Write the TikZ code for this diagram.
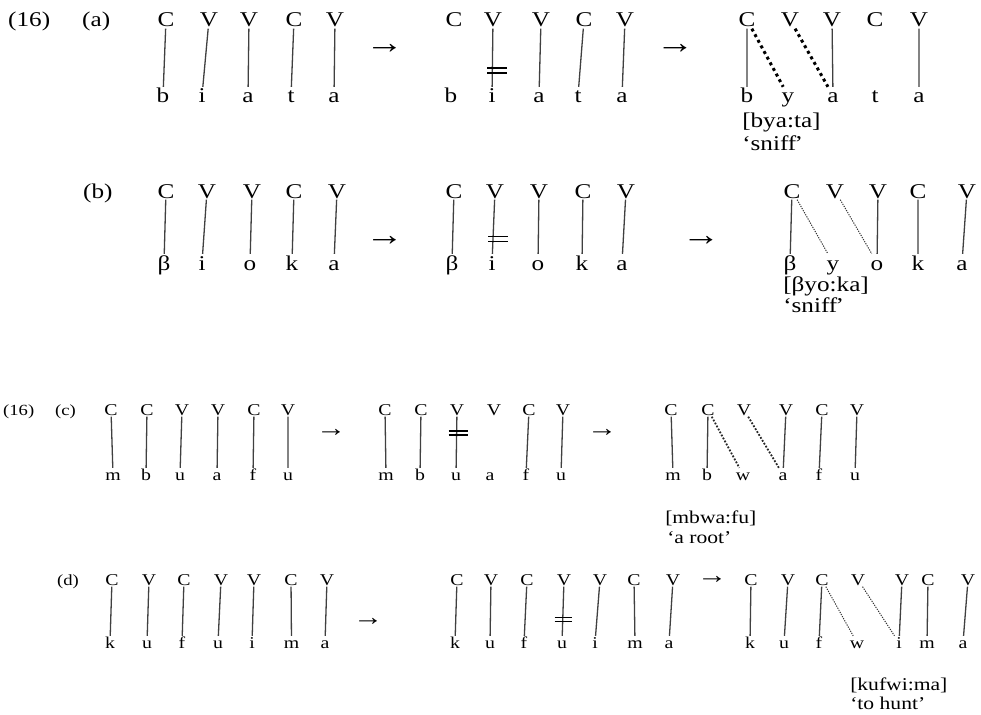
\documentclass[tikz,border=0pt]{standalone}
\usepackage{fontspec}
\setmainfont{Liberation Serif}
\usepackage{tikz}
\tikzset{
    seg/.style={
        anchor=base,
        inner sep=1.5pt,
        xscale=1.2,
        text height=14.5pt,
        text depth=0pt,
        font=\fontsize{21}{21}\selectfont
    },
    smallseg/.style={
        seg,
        text height=10.5pt,
        font=\fontsize{16.5}{16.5}\selectfont
    },
    gloss/.style={
        anchor=base west,
        inner sep=0pt,
        xscale=1.2,
        font=\fontsize{21}{21}\selectfont
    },
    smallgloss/.style={
        gloss,
        font=\fontsize{18}{18}\selectfont
    },
    exnum/.style={gloss},
    smallexnum/.style={gloss, font=\fontsize{15.5}{15.5}\selectfont},
    rarrow/.style={
        inner sep=0pt,
        xscale=1.2,
        font=\fontsize{32}{32}\selectfont
    },
    smallrarrow/.style={rarrow, font=\fontsize{25}{25}\selectfont},
    link/.style={line width=1.3pt, draw=black!75},
    boldlink/.style={line width=3pt, draw=black, dash pattern=on 3pt off 3.4pt},
    midlink/.style={line width=1.8pt, draw=black!85, dash pattern=on 1.8pt off 1.6pt},
    dotlink/.style={line width=1pt, draw=black!80, dash pattern=on 1.2pt off 1.2pt},
    cut/.style={line width=1.3pt, draw=black}
}

\begin{document}
\begin{tikzpicture}[x=1pt, y=-1pt]
\useasboundingbox (0,0) rectangle (981,714);

% (16a)
\node[exnum] (n16a) at (8,27) {(16)};
\node[exnum] (la) at (82,27) {(a)};

\node[seg] (a1s1) at (166,27) {C};
\node[seg] (a1s2) at (209,27) {V};
\node[seg] (a1s3) at (249,27) {V};
\node[seg] (a1s4) at (294,27) {C};
\node[seg] (a1s5) at (335,27) {V};
\node[seg] (a1m1) at (163,103) {b};
\node[seg] (a1m2) at (202,103) {i};
\node[seg] (a1m3) at (248,103) {a};
\node[seg] (a1m4) at (291,103) {t};
\node[seg] (a1m5) at (334,103) {a};

\node[rarrow] (ra1) at (384.5,49) {→};

\node[seg] (a2s1) at (454,27) {C};
\node[seg] (a2s2) at (493,27) {V};
\node[seg] (a2s3) at (541,27) {V};
\node[seg] (a2s4) at (584,27) {C};
\node[seg] (a2s5) at (625,27) {V};
\node[seg] (a2m1) at (451,103) {b};
\node[seg] (a2m2) at (492,103) {i};
\node[seg] (a2m3) at (539,103) {a};
\node[seg] (a2m4) at (578,103) {t};
\node[seg] (a2m5) at (622,103) {a};

\node[rarrow] (ra2) at (675,49) {→};

\node[seg] (a3s1) at (747,27) {C};
\node[seg] (a3s2) at (790,27) {V};
\node[seg] (a3s3) at (832,27) {V};
\node[seg] (a3s4) at (875,27) {C};
\node[seg] (a3s5) at (919,27) {V};
\node[seg] (a3m1) at (747,103) {b};
\node[seg] (a3m2) at (788,103) {y};
\node[seg] (a3m3) at (833,103) {a};
\node[seg] (a3m4) at (875,103) {t};
\node[seg] (a3m5) at (919,103) {a};
\node[gloss] (ga1) at (742,128) {[bya:ta]};
\node[gloss] (ga2) at (742,150) {‘sniff\kern-1.5pt’};

\draw[link] (a1s1) -- (a1m1);
\draw[link] (a1s2) -- (a1m2);
\draw[link] (a1s3) -- (a1m3);
\draw[link] (a1s4) -- (a1m4);
\draw[link] (a1s5) -- (a1m5);

\draw[link] (a2s2) -- coordinate[pos=0.72] (a2x) (a2m2);
\draw[link] (a2s3) -- (a2m3);
\draw[link] (a2s4) -- (a2m4);
\draw[link] (a2s5) -- (a2m5);
\draw[cut] ([shift={(-5,-2.5)}]a2x) -- +(20,0) ([shift={(-5,2.5)}]a2x) -- +(20,0);

\draw[link] (a3s1) -- (a3m1);
\draw[boldlink] (a3s1) -- (a3m2);
\draw[boldlink] (a3s2) -- (a3m3);
\draw[link] (a3s3) -- (a3m3);
\draw[link] (a3s5) -- (a3m5);

% (16b)
\node[exnum] (lb) at (83,198) {(b)};

\node[seg] (b1s1) at (166,198) {C};
\node[seg] (b1s2) at (207,198) {V};
\node[seg] (b1s3) at (252,198) {V};
\node[seg] (b1s4) at (294,198) {C};
\node[seg] (b1s5) at (337,198) {V};
\node[seg] (b1m1) at (164,270) {β};
\node[seg] (b1m2) at (202,270) {i};
\node[seg] (b1m3) at (250,270) {o};
\node[seg] (b1m4) at (292,270) {k};
\node[seg] (b1m5) at (334,270) {a};

\node[rarrow] (rb1) at (384.5,241) {→};

\node[seg] (b2s1) at (454,198) {C};
\node[seg] (b2s2) at (495,198) {V};
\node[seg] (b2s3) at (539,198) {V};
\node[seg] (b2s4) at (583,198) {C};
\node[seg] (b2s5) at (626,198) {V};
\node[seg] (b2m1) at (452,270) {β};
\node[seg] (b2m2) at (492,270) {i};
\node[seg] (b2m3) at (538,270) {o};
\node[seg] (b2m4) at (582,270) {k};
\node[seg] (b2m5) at (622,270) {a};

\node[rarrow] (rb2) at (701,241) {→};

\node[seg] (b3s1) at (792,198) {C};
\node[seg] (b3s2) at (835,198) {V};
\node[seg] (b3s3) at (878,198) {V};
\node[seg] (b3s4) at (918,198) {C};
\node[seg] (b3s5) at (967,198) {V};
\node[seg] (b3m1) at (790,270) {β};
\node[seg] (b3m2) at (833,270) {y};
\node[seg] (b3m3) at (877,270) {o};
\node[seg] (b3m4) at (918,270) {k};
\node[seg] (b3m5) at (962,270) {a};
\node[gloss] (gb1) at (783,291) {[βyo:ka]};
\node[gloss] (gb2) at (783,312) {‘sniff\kern-1.5pt’};

\draw[link] (b1s1) -- (b1m1);
\draw[link] (b1s2) -- (b1m2);
\draw[link] (b1s3) -- (b1m3);
\draw[link] (b1s4) -- (b1m4);
\draw[link] (b1s5) -- (b1m5);

\draw[link] (b2s1) -- (b2m1);
\draw[link] (b2s2) -- coordinate[pos=0.72] (b2x) (b2m2);
\draw[link] (b2s3) -- (b2m3);
\draw[link] (b2s4) -- (b2m4);
\draw[link] (b2s5) -- (b2m5);
\draw[cut] ([shift={(-5,-2.5)}]b2x) -- +(20,0) ([shift={(-5,2.5)}]b2x) -- +(20,0);

\draw[link] (b3s1) -- (b3m1);
\draw[dotlink] (b3s1) -- (b3m2);
\draw[dotlink] (b3s2) -- (b3m3);
\draw[link] (b3s3) -- (b3m3);
\draw[link] (b3s4) -- (b3m4);
\draw[link] (b3s5) -- (b3m5);

% (16c)
\node[smallexnum] (n16c) at (3,415) {(16)};
\node[smallexnum] (lc) at (55,415) {(c)};

\node[smallseg] (c1s1) at (111,415) {C};
\node[smallseg] (c1s2) at (147,415) {C};
\node[smallseg] (c1s3) at (182,415) {V};
\node[smallseg] (c1s4) at (218,415) {V};
\node[smallseg] (c1s5) at (254,415) {C};
\node[smallseg] (c1s6) at (288,415) {V};
\node[smallseg] (c1m1) at (113,480) {m};
\node[smallseg] (c1m2) at (146,480) {b};
\node[smallseg] (c1m3) at (180,480) {u};
\node[smallseg] (c1m4) at (217,480) {a};
\node[smallseg] (c1m5) at (253,480) {f};
\node[smallseg] (c1m6) at (288,480) {u};

\node[smallrarrow] (rc1) at (331,433) {→};

\node[smallseg] (c2s1) at (385,415) {C};
\node[smallseg] (c2s2) at (421,415) {C};
\node[smallseg] (c2s3) at (457,415) {V};
\node[smallseg] (c2s4) at (494,415) {V};
\node[smallseg] (c2s5) at (529,415) {C};
\node[smallseg] (c2s6) at (563,415) {V};
\node[smallseg] (c2m1) at (386,480) {m};
\node[smallseg] (c2m2) at (420,480) {b};
\node[smallseg] (c2m3) at (456,480) {u};
\node[smallseg] (c2m4) at (490,480) {a};
\node[smallseg] (c2m5) at (526,480) {f};
\node[smallseg] (c2m6) at (561,480) {u};

\node[smallrarrow] (rc2) at (602,433) {→};

\node[smallseg] (c3s1) at (671,415) {C};
\node[smallseg] (c3s2) at (708,415) {C};
\node[smallseg] (c3s3) at (744,415) {V};
\node[smallseg] (c3s4) at (786,415) {V};
\node[smallseg] (c3s5) at (822,415) {C};
\node[smallseg] (c3s6) at (857,415) {V};
\node[smallseg] (c3m1) at (673,480) {m};
\node[smallseg] (c3m2) at (707,480) {b};
\node[smallseg] (c3m3) at (743,480) {w};
\node[smallseg] (c3m4) at (783,480) {a};
\node[smallseg] (c3m5) at (819,480) {f};
\node[smallseg] (c3m6) at (855,480) {u};
\node[smallgloss] (gc1) at (665,523) {[mbwa:fu]};
\node[smallgloss] (gc2) at (667,543) {‘a root’};

\draw[link] (c1s1) -- (c1m1);
\draw[link] (c1s2) -- (c1m2);
\draw[link] (c1s3) -- (c1m3);
\draw[link] (c1s4) -- (c1m4);
\draw[link] (c1s5) -- (c1m5);
\draw[link] (c1s6) -- (c1m6);

\draw[link] (c2s1) -- (c2m1);
\draw[link] (c2s2) -- (c2m2);
\draw[link] (c2s3) -- coordinate[pos=0.32] (c2x) (c2m3);
\draw[link] (c2s5) -- (c2m5);
\draw[link] (c2s6) -- (c2m6);
\draw[cut] ([shift={(-8,-2)}]c2x) -- +(19,0) ([shift={(-8,2)}]c2x) -- +(19,0);

\draw[link] (c3s1) -- (c3m1);
\draw[link] (c3s2) -- (c3m2);
\draw[midlink] (c3s2) -- (c3m3);
\draw[midlink] (c3s3) -- (c3m4);
\draw[link] (c3s4) -- (c3m4);
\draw[link] (c3s5) -- (c3m5);
\draw[link] (c3s6) -- (c3m6);

% (16d)
\node[smallexnum] (ld) at (57,585) {(d)};

\node[smallseg] (d1s1) at (112,585) {C};
\node[smallseg] (d1s2) at (149,585) {V};
\node[smallseg] (d1s3) at (184,585) {C};
\node[smallseg] (d1s4) at (221,585) {V};
\node[smallseg] (d1s5) at (254,585) {V};
\node[smallseg] (d1s6) at (291,585) {C};
\node[smallseg] (d1s7) at (327,585) {V};
\node[smallseg] (d1m1) at (110,648) {k};
\node[smallseg] (d1m2) at (147,648) {u};
\node[smallseg] (d1m3) at (182,648) {f};
\node[smallseg] (d1m4) at (218,648) {u};
\node[smallseg] (d1m5) at (252,648) {i};
\node[smallseg] (d1m6) at (291.5,648) {m};
\node[smallseg] (d1m7) at (325,648) {a};

\node[smallrarrow] (rd1) at (368,622) {→};

\node[smallseg] (d2s1) at (457,585) {C};
\node[smallseg] (d2s2) at (491,585) {V};
\node[smallseg] (d2s3) at (527,585) {C};
\node[smallseg] (d2s4) at (564,585) {V};
\node[smallseg] (d2s5) at (600,585) {V};
\node[smallseg] (d2s6) at (634,585) {C};
\node[smallseg] (d2s7) at (673,585) {V};
\node[smallseg] (d2m1) at (455,648) {k};
\node[smallseg] (d2m2) at (490,648) {u};
\node[smallseg] (d2m3) at (524,648) {f};
\node[smallseg] (d2m4) at (562,648) {u};
\node[smallseg] (d2m5) at (595,648) {i};
\node[smallseg] (d2m6) at (635,648) {m};
\node[smallseg] (d2m7) at (669,648) {a};

\node[smallrarrow] (rd2) at (712,580) {→};

\node[smallseg] (d3s1) at (751,585) {C};
\node[smallseg] (d3s2) at (788,585) {V};
\node[smallseg] (d3s3) at (822,585) {C};
\node[smallseg] (d3s4) at (858,585) {V};
\node[smallseg] (d3s5) at (902,585) {V};
\node[smallseg] (d3s6) at (928,585) {C};
\node[smallseg] (d3s7) at (968,585) {V};
\node[smallseg] (d3m1) at (750,648) {k};
\node[smallseg] (d3m2) at (784,648) {u};
\node[smallseg] (d3m3) at (819,648) {f};
\node[smallseg] (d3m4) at (857,648) {w};
\node[smallseg] (d3m5) at (899,648) {i};
\node[smallseg] (d3m6) at (927,648) {m};
\node[smallseg] (d3m7) at (963,648) {a};
\node[smallgloss] (gd1) at (850,690) {[kufwi:ma]};
\node[smallgloss] (gd2) at (850,709) {‘to hunt’};

\draw[link] (d1s1) -- (d1m1);
\draw[link] (d1s2) -- (d1m2);
\draw[link] (d1s3) -- (d1m3);
\draw[link] (d1s4) -- (d1m4);
\draw[link] (d1s5) -- (d1m5);
\draw[link] (d1s6) -- (d1m6);
\draw[link] (d1s7) -- (d1m7);

\draw[link] (d2s1) -- (d2m1);
\draw[link] (d2s2) -- (d2m2);
\draw[link] (d2s3) -- (d2m3);
\draw[link] (d2s4) -- coordinate[pos=0.67] (d2x) (d2m4);
\draw[link] (d2s5) -- (d2m5);
\draw[link] (d2s6) -- (d2m6);
\draw[link] (d2s7) -- (d2m7);
\draw[cut] ([shift={(-8,-2.2)}]d2x) -- +(17,0) ([shift={(-8,2.2)}]d2x) -- +(17,0);

\draw[link] (d3s1) -- (d3m1);
\draw[link] (d3s2) -- (d3m2);
\draw[link] (d3s3) -- (d3m3);
\draw[dotlink] (d3s3) -- (d3m4);
\draw[dotlink] (d3s4) -- (d3m5);
\draw[link] (d3s5) -- (d3m5);
\draw[link] (d3s6) -- (d3m6);
\draw[link] (d3s7) -- (d3m7);

\end{tikzpicture}
\end{document}
